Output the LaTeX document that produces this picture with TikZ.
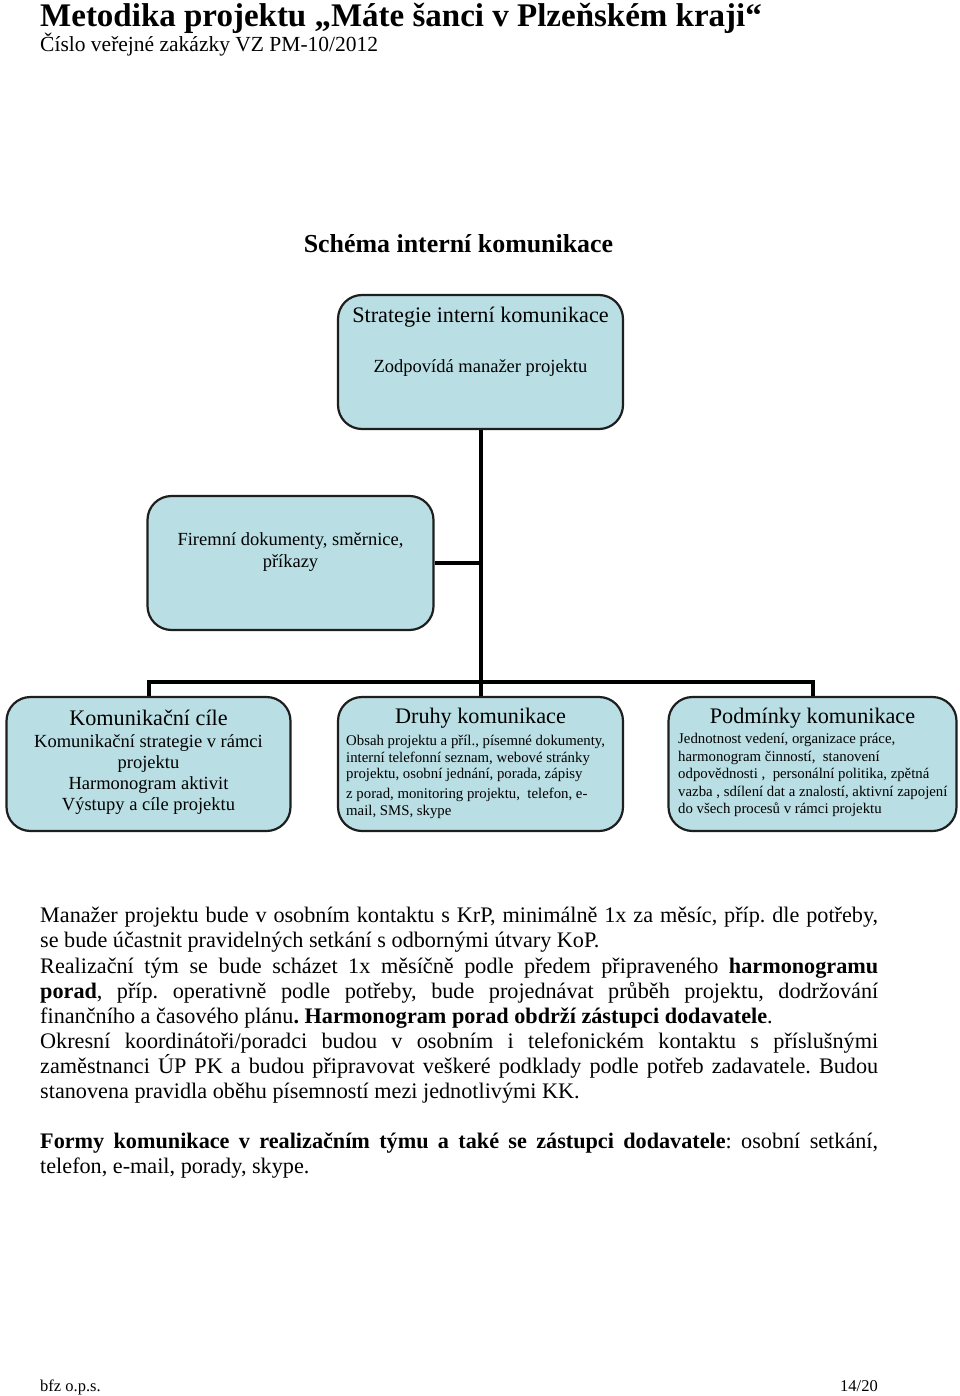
\documentclass[tikz,border=0pt]{standalone}
\usepackage{fontspec}
\setmainfont{Liberation Serif}
\definecolor{boxfill}{RGB}{185,222,228}
\definecolor{boxline}{RGB}{30,30,30}
\newcommand{\fs}[1]{\fontsize{#1}{#1}\selectfont}
\newcommand{\jline}[1]{\makebox[838pt][s]{#1}}
\frenchspacing
\begin{document}
\begin{tikzpicture}[x=1pt,y=-1pt,
  box/.style={draw=boxline, line width=2.2pt, fill=boxfill, rounded corners=24pt, inner sep=0pt},
  conn/.style={line width=4pt, draw=black},
  bt/.style={inner sep=0pt, anchor=base},
  bl/.style={inner sep=0pt, anchor=base west},
  boxhead/.style={bt, font=\fs{22.2}},
  boxmid/.style={bt, font=\fs{18.5}},
  boxsmall/.style={bl, font=\fs{14.8}},
  body/.style={bl, font=\fs{22.2}\frenchspacing}]
\fill[white] (0,0) rectangle (960,1396);
\useasboundingbox (0,0) rectangle (960,1396);

% header
\node[bl, font=\fs{33}\bfseries] (title) at (40,27) {Metodika projektu „Máte šanci v Plzeňském kraji“};
\node[bl, font=\fs{21.5}] (subtitle) at (40,52) {Číslo veřejné zakázky VZ PM-10/2012};
\node[bt, font=\fs{25.9}\bfseries] (heading) at (458.5,253) {Schéma interní komunikace};

% boxes
\node[box, minimum width=285pt, minimum height=134pt] (top) at (480.5,362) {};
\node[box, minimum width=286pt, minimum height=134pt] (firm) at (290.5,563) {};
\node[box, minimum width=284pt, minimum height=134pt] (k1) at (148.5,764) {};
\node[box, minimum width=285pt, minimum height=134pt] (k2) at (480.5,764) {};
\node[box, minimum width=288pt, minimum height=134pt] (k3) at (812.5,764) {};

% connectors
\coordinate (bus) at (481,682);
\draw[conn] (top.south) -- (k2.north);
\draw[conn] (firm.east) -- (firm.east -| top.south);
\draw[conn] (k1.north) |- (bus) -| (k3.north);

% box texts
\node[boxhead] (topa) at (480.5,322) {Strategie interní komunikace};
\node[boxmid] (topb) at (480.5,372) {Zodpovídá manažer projektu};

\node[boxmid] (firma) at (290.5,545) {Firemní dokumenty, směrnice,};
\node[boxmid] (firmb) at (290.5,567) {příkazy};

\node[boxhead] (k1a) at (148.5,725) {Komunikační cíle};
\node[boxmid] (k1b) at (148.5,747) {Komunikační strategie v rámci};
\node[boxmid] (k1c) at (148.5,768) {projektu};
\node[boxmid] (k1d) at (148.5,789) {Harmonogram aktivit};
\node[boxmid] (k1e) at (148.5,810) {Výstupy a cíle projektu};

\node[boxhead] (k2a) at (480.5,723) {Druhy komunikace};
\node[boxsmall] (k2b) at (346,745) {Obsah projektu a příl., písemné dokumenty,};
\node[boxsmall] (k2c) at (346,762) {interní telefonní seznam, webové stránky};
\node[boxsmall] (k2d) at (346,778) {projektu, osobní jednání, porada, zápisy};
\node[boxsmall] (k2e) at (346,798) {z porad, monitoring projektu,\ \ telefon, e-};
\node[boxsmall] (k2f) at (346,815) {mail, SMS, skype};

\node[boxhead] (k3a) at (812.5,723) {Podmínky komunikace};
\node[boxsmall] (k3b) at (678,743) {Jednotnost vedení, organizace práce,};
\node[boxsmall] (k3c) at (678,761) {harmonogram činností,\ \ stanovení};
\node[boxsmall] (k3d) at (678,778) {odpovědnosti ,\ \ personální politika, zpětná};
\node[boxsmall] (k3e) at (678,796) {vazba , sdílení dat a znalostí, aktivní zapojení};
\node[boxsmall] (k3f) at (678,813) {do všech procesů v rámci projektu};

% body text
\node[body] (p1) at (40,922) {\jline{Manažer projektu bude v osobním kontaktu s KrP, minimálně 1x za měsíc, příp. dle potřeby,}};
\node[body] (p2) at (40,947.5) {se bude účastnit pravidelných setkání s odbornými útvary KoP.};
\node[body] (p3) at (40,973) {\jline{Realizační tým se bude scházet 1x měsíčně podle předem připraveného \textbf{harmonogramu}}};
\node[body] (p4) at (40,998) {\jline{\textbf{porad}, příp. operativně podle potřeby, bude projednávat průběh projektu, dodržování}};
\node[body] (p5) at (40,1023) {finančního a časového plánu\textbf{. Harmonogram porad obdrží zástupci dodavatele}.};
\node[body] (p6) at (40,1048) {\jline{Okresní koordinátoři/poradci budou v osobním i telefonickém kontaktu s příslušnými}};
\node[body] (p7) at (40,1073) {\jline{zaměstnanci ÚP PK a budou připravovat veškeré podklady podle potřeb zadavatele. Budou}};
\node[body] (p8) at (40,1098) {stanovena pravidla oběhu písemností mezi jednotlivými KK.};
\node[body] (p9) at (40,1148) {\jline{\textbf{Formy komunikace v realizačním týmu a také se zástupci dodavatele}: osobní setkání,}};
\node[body] (p10) at (40,1173) {telefon, e-mail, porady, skype.};

% footer
\node[bl, font=\fs{16.5}] (foot1) at (40,1391) {bfz o.p.s.};
\node[bt, anchor=base east, font=\fs{16.5}] (foot2) at (878,1391) {14/20};
\end{tikzpicture}
\end{document}
